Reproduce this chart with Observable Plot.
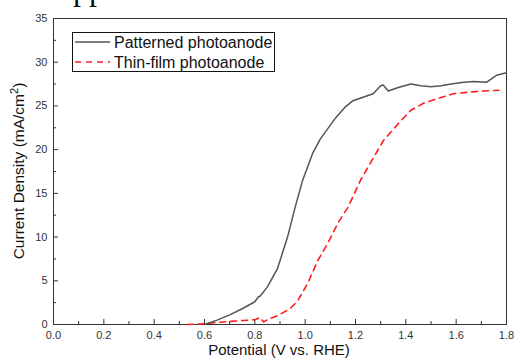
<!DOCTYPE html>
<html>
<head>
<meta charset="utf-8">
<script src="https://cdn.jsdelivr.net/npm/d3@7"></script>
<script src="https://cdn.jsdelivr.net/npm/@observablehq/plot@0.6"></script>
<style>
  html, body { margin: 0; padding: 0; background: #fff; }
  #wrap { position: relative; width: 515px; height: 358px; overflow: hidden; }
  #frag { position: absolute; left: 73px; top: -27px; font-family: "Liberation Serif", serif; font-size: 32px; color: #111; line-height: 1; }
</style>
</head>
<body>
<div id="wrap"><div id="frag">pp</div><div id="chart"></div></div>
<script>
const patternedV = [0.60,0.65,0.70,0.75,0.80,0.815,0.82,0.85,0.89,0.90,0.93,0.96,0.99,1.03,1.06,1.09,1.12,1.16,1.19,1.23,1.27,1.30,1.31,1.33,1.37,1.42,1.46,1.50,1.54,1.58,1.63,1.67,1.72,1.76,1.80];
const patternedJ = [0.0,0.5,1.1,1.8,2.6,3.2,3.2,4.3,6.4,7.3,10.0,13.4,16.5,19.6,21.2,22.4,23.6,24.9,25.6,26.0,26.4,27.3,27.4,26.7,27.1,27.5,27.3,27.2,27.3,27.5,27.7,27.8,27.7,28.5,28.8];
const thinV = [0.53,0.58,0.62,0.66,0.70,0.75,0.80,0.82,0.835,0.86,0.89,0.94,0.97,1.01,1.05,1.09,1.13,1.17,1.22,1.25,1.31,1.38,1.42,1.47,1.52,1.59,1.66,1.71,1.77];
const thinJ = [0.0,0.05,0.15,0.25,0.35,0.45,0.55,0.8,0.3,0.7,1.0,1.8,2.7,4.7,7.3,9.3,11.6,13.4,16.5,18.0,21.0,23.3,24.5,25.3,25.8,26.4,26.6,26.7,26.8];
const xMajor = [0,0.2,0.4,0.6,0.8,1.0,1.2,1.4,1.6,1.8];
const xMinor = [0.1,0.3,0.5,0.7,0.9,1.1,1.3,1.5,1.7];
const yMajor = [0,5,10,15,20,25,30,35];
const yMinor = [2.5,7.5,12.5,17.5,22.5,27.5,32.5];
const legendLabels = ["Patterned photoanode","Thin-film photoanode"];

const patterned = patternedV.map((v,i)=>({v, j: patternedJ[i]}));
const thin = thinV.map((v,i)=>({v, j: thinJ[i]}));

const font = "'Liberation Sans', Arial, sans-serif";
const plot = Plot.plot({
  width: 515, height: 358,
  marginLeft: 53, marginRight: 9, marginTop: 18, marginBottom: 34,
  style: {fontFamily: font, fontSize: "11px", color: "#333", background: "transparent", overflow: "visible"},
  x: {domain: [0, 1.8]},
  y: {domain: [0, 35]},
  marks: [
    Plot.frame({stroke: "#333", strokeWidth: 1}),
    Plot.axisX({ticks: xMajor, tickSize: -5, tickFormat: d3.format(".1f"), tickPadding: 12, fontSize: 11, label: null, stroke: "#333"}),
    Plot.axisX({ticks: xMinor, tickSize: -3, tickFormat: () => "", label: null, stroke: "#333"}),
    Plot.axisY({ticks: yMajor, tickSize: -5, tickFormat: d3.format("d"), tickPadding: 11, fontSize: 11, label: null, stroke: "#333"}),
    Plot.axisY({ticks: yMinor, tickSize: -3, tickFormat: () => "", label: null, stroke: "#333"}),
    Plot.line(thin, {x: "v", y: "j", stroke: "#ff1a1a", strokeWidth: 1.6, strokeDasharray: "6,5"}),
    Plot.line(patterned, {x: "v", y: "j", stroke: "#555", strokeWidth: 1.5})
  ]
});

const svg = d3.select(plot);
// axis titles
svg.append("text").attr("x", 279).attr("y", 355).attr("text-anchor", "middle")
  .attr("font-family", font).attr("font-size", 15).attr("fill", "#111").text("Potential (V vs. RHE)");
const yt = svg.append("text").attr("transform", "translate(24,171) rotate(-90)").attr("text-anchor", "middle")
  .attr("font-family", font).attr("font-size", 15.5).attr("fill", "#111");
yt.append("tspan").text("Current Density (mA/cm");
yt.append("tspan").attr("font-size", 11).attr("dy", -6).text("2");
yt.append("tspan").attr("dy", 6).text(")");
// legend
const lg = svg.append("g").attr("font-family", font).attr("font-size", 16).attr("fill", "#111").attr("text-anchor", "start");
lg.append("rect").attr("x", 72.5).attr("y", 32.5).attr("width", 202).attr("height", 39).attr("fill", "#fff").attr("stroke", "#111");
lg.append("line").attr("x1", 75).attr("x2", 110).attr("y1", 42).attr("y2", 42).attr("stroke", "#555").attr("stroke-width", 1.5);
lg.append("line").attr("x1", 75).attr("x2", 110).attr("y1", 62).attr("y2", 62).attr("stroke", "#ff1a1a").attr("stroke-width", 1.6).attr("stroke-dasharray", "6,5");
lg.append("text").attr("x", 114).attr("y", 48).attr("text-anchor", "start").text(legendLabels[0]);
lg.append("text").attr("x", 114).attr("y", 68).attr("text-anchor", "start").text(legendLabels[1]);

document.getElementById("chart").appendChild(plot);
</script>
</body>
</html>
